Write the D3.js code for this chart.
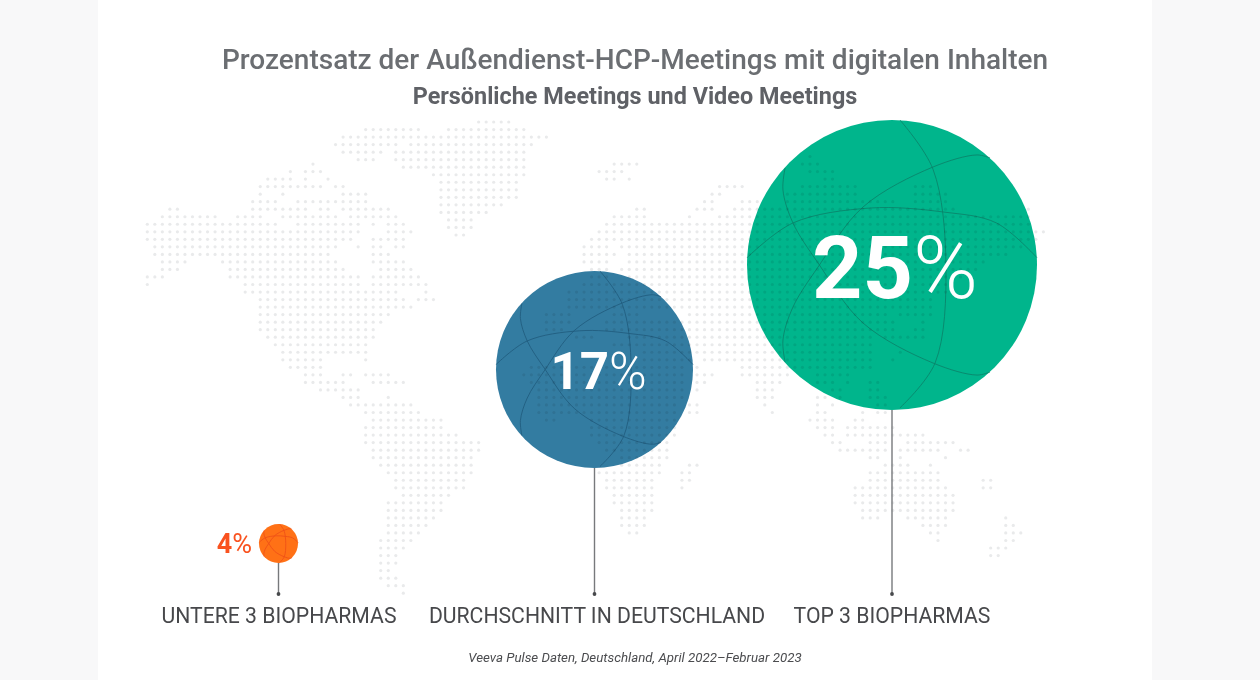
<!DOCTYPE html>
<html>
<head>
<meta charset="utf-8">
<script src="https://cdn.jsdelivr.net/npm/d3@7"></script>
<style>
    html, body { margin: 0; padding: 0; background: #f8f8f9; }
    svg { display: block; font-family: Roboto, sans-serif; }
</style>
</head>
<body>
<svg id="chart" width="1260" height="680"></svg>
<script>
const title = 'Prozentsatz der Außendienst-HCP-Meetings mit digitalen Inhalten';
const subtitle = 'Persönliche Meetings und Video Meetings';
const footnote = 'Veeva Pulse Daten, Deutschland, April 2022–Februar 2023';

const categories = ['UNTERE 3 BIOPHARMAS', 'DURCHSCHNITT IN DEUTSCHLAND', 'TOP 3 BIOPHARMAS'];
const values = [4, 17, 25];

// dot map background, column ranges per grid row
const greenlandRows = [
    '44-48', '29-36 40-50', '26-53', '25-33 35-51', '26-31 33-50', '28-30 33-50', '34-50', '38-50',
    '39-49', '39-49', '39-49', '39-47', '39-45', '40-43', '40-43', '41-42'
];
const worldRows = [
    '88',
    '22 62-65 87-89',
    '19 21-23 60-63 88-91',
    '16-19 21 24 61 62 64 90 91',
    '15-23 25 26 76-79 87-94 102-104',
    '15 18 26-29 75 76 85-94 102-106',
    '14-17 20-29 74 75 79-81 85-99 102-106',
    '3 4 14-21 23 24 26-32 65 66 73-75 78-107 117',
    '2-9 12-15 18-25 27-33 62-66 72 76-117',
    '0-17 20-28 30 32-34 61-117',
    '0-28 32-35 60-119',
    '0-27 30-34 59-118',
    '1-25 28 30 31 33 34 58-61 63-116',
    '1-24 30-32 58-62 64-114',
    '2-5 10-25 30-34 58-61 64-111',
    '2-4 11-26 31-35 59-61 63-110',
    '0-2 11-28 30-36 59-61 64-108',
    '0 13-28 30-37 58-106',
    '13-33 37 56-106',
    '15-34 36-38 56-104',
    '15-35 56-104',
    '15-32 53-56 62-65 72-98 100-104',
    '15-31 53-56 61-99 103',
    '15-30 53-55 61-99 102 103',
    '16-30 57-59 64-96 98-103',
    '17-29 62-96',
    '18-29 66-96 100',
    '18-23 29 66-72 74-96 99',
    '19-23 51-71 73 79-96',
    '21-23 26 27 29-32 50-71 73-75 79-85 89-93',
    '21-26 30-34 51-71 73 74 81-84 89-91 93 96 97',
    '23-28 52-71 73 81-83 91 92 96 97',
    '26-28 32 52-71 81-83 89 90 92 96-98',
    '27-35 52-70 72 73 82 89 91 97 98',
    '29-36 52-70 72 73 83 89 90 95 97 98',
    '30-39 53 54 59-70 88-91 94 95',
    '29-39 59-70 89-91 93-99',
    '29-41 59-70 90 91 93-103',
    '29-44 60-69 91 92 96-98 101-107',
    '30-44 61-69 92-98 100-105 108 109',
    '30-43 63-69 96 97 100 106',
    '31-43 63-68 72 73 98-101 104',
    '32-43 60-68 71 72 96-105',
    '33-42 61-67 71 72 96-105 111 112',
    '33-42 61-67 71 94-106 111 112',
    '34-40 62-67 94-107',
    '32-39 62-67 94-107',
    '32-39 63-67 95-107',
    '32-38 63-66 95-97 101-106 114',
    '32-37 63-66 103-106 114 115',
    '32-36 64 65 104 105 114-116',
    '31-35 105 114 115',
    '31-34 112-114',
    '31-33 112 113',
    '31-33',
    '31 32',
    '31-33',
    '32-34',
    '34'
];

// globe lines on a unit circle
const globeArcs = [
    [[-1, -0.05], [-0.683, -0.29], [-0.15, -0.393], [0.35, -0.366], [0.72, -0.29], [1, -0.05]],
    [[0.055, -1], [0.283, -0.66], [0.372, 0], [0.297, 0.676], [0.055, 0.985]],
    [[-0.737, -0.67], [-0.752, -0.517], [-0.683, -0.29], [-0.51, -0.014], [-0.2, 0.4], [0.283, 0.676], [0.586, 0.759], [0.676, 0.738]],
    [[-0.737, 0.67], [-0.752, 0.517], [-0.683, 0.29], [-0.51, 0.014], [-0.2, -0.4], [0.283, -0.676], [0.586, -0.759], [0.676, -0.738]]
];

function expandRows(rows, firstRow) {
    const dots = [];
    rows.forEach(function(row, i) {
        row.split(' ').forEach(function(part) {
            const ends = part.split('-').map(Number);
            const last = ends.length > 1 ? ends[1] : ends[0];
            for (let c = ends[0]; c <= last; c++) {
                dots.push({ col: c, row: firstRow + i });
            }
        });
    });
    return dots;
}

const svg = d3.select('#chart');

svg.append('rect')
    .attr('x', 98)
    .attr('y', 0)
    .attr('width', 1054)
    .attr('height', 680)
    .attr('fill', '#ffffff');

// Create scales
const xScale = d3.scaleOrdinal().domain(categories).range([278.5, 594.5, 892]);
const rScale = d3.scaleLinear().domain(values).range([19.5, 98.5, 145]);
const bottomScale = d3.scaleLinear().domain(values).range([563, 468, 410]);
const colorScale = d3.scaleOrdinal().domain(categories).range(['#ff7116', '#337ca1', '#00b58c']);
const arcColor = d3.scaleOrdinal().domain(categories).range(['#ee4e16', '#1f5a7c', '#0b7f68']);
const colScale = d3.scaleLinear().domain([0, 119]).range([147.3, 1043.4]);
const rowScale = d3.scaleLinear().domain([0, 58]).range([156.5, 593.2]);
const greenlandRowScale = d3.scaleLinear().domain([0, 15]).range([122, 235]);

const arcLine = d3.line().curve(d3.curveCatmullRom.alpha(0.5));

const chart = svg.append('g');

// bubbles
const bubbles = chart.selectAll('.bubble')
    .data(categories)
    .enter()
    .append('g')
    .attr('class', 'bubble')
    .attr('transform', function(d, i) {
        return `translate(${xScale(d)},${bottomScale(values[i]) - rScale(values[i])})`;
    });

bubbles.append('circle')
    .attr('r', function(d, i) { return rScale(values[i]); })
    .attr('fill', function(d) { return colorScale(d); });

bubbles.selectAll('path')
    .data(function(d, i) {
        return globeArcs.map(function(arc) {
            return { cat: d, points: arc.map(p => [p[0] * rScale(values[i]), p[1] * rScale(values[i])]) };
        });
    })
    .enter()
    .append('path')
    .attr('d', d => arcLine(d.points))
    .attr('fill', 'none')
    .attr('stroke', d => arcColor(d.cat))
    .attr('stroke-width', 1)
    .attr('stroke-opacity', 0.8);

// map dots go over the bubbles and darken them
const dots = chart.append('g').style('mix-blend-mode', 'multiply');

dots.selectAll('.greenland')
    .data(expandRows(greenlandRows, 0))
    .enter()
    .append('circle')
    .attr('class', 'greenland')
    .attr('cx', d => colScale(d.col))
    .attr('cy', d => greenlandRowScale(d.row))
    .attr('r', 1.6)
    .attr('fill', '#e9eaeb');

dots.selectAll('.world')
    .data(expandRows(worldRows, 0))
    .enter()
    .append('circle')
    .attr('class', 'world')
    .attr('cx', d => colScale(d.col))
    .attr('cy', d => rowScale(d.row))
    .attr('r', 1.6)
    .attr('fill', '#e9eaeb');

// stems
const stems = chart.selectAll('.stem')
    .data(categories)
    .enter()
    .append('g')
    .attr('class', 'stem');

stems.append('line')
    .attr('x1', d => xScale(d))
    .attr('x2', d => xScale(d))
    .attr('y1', (d, i) => bottomScale(values[i]))
    .attr('y2', 594)
    .attr('stroke', '#77797c')
    .attr('stroke-width', 1.4);

stems.append('circle')
    .attr('cx', d => xScale(d))
    .attr('cy', 594)
    .attr('r', 1.9)
    .attr('fill', '#47494c');

// value labels
const valueLabels = chart.selectAll('.value')
    .data(categories)
    .enter()
    .append('text')
    .attr('class', 'value')
    .attr('x', function(d, i) { return [252, 598.5, 895][i]; })
    .attr('y', function(d, i) { return [553, 389, 298][i]; })
    .style('text-anchor', function(d, i) { return i === 0 ? 'end' : 'middle'; })
    .style('font-size', function(d, i) { return [27, 51, 88][i] + 'px'; })
    .style('fill', function(d, i) { return i === 0 ? '#f9521f' : '#ffffff'; });

valueLabels.append('tspan')
    .style('font-weight', 700)
    .text((d, i) => values[i]);

valueLabels.append('tspan')
    .style('font-weight', (d, i) => i === 0 ? 400 : 300)
    .text('%');

// category labels
chart.selectAll('.category')
    .data(categories)
    .enter()
    .append('text')
    .attr('class', 'category')
    .attr('x', function(d, i) { return [279, 597, 892][i]; })
    .attr('y', 623)
    .style('text-anchor', 'middle')
    .style('font-size', '21.2px')
    .style('fill', '#47484b')
    .text(d => d);

// Add title
svg.append('text')
    .attr('x', 635)
    .attr('y', 69)
    .style('text-anchor', 'middle')
    .style('font-size', '28px')
    .style('font-weight', 500)
    .style('fill', '#6b6e72')
    .text(title);

svg.append('text')
    .attr('x', 635)
    .attr('y', 104)
    .style('text-anchor', 'middle')
    .style('font-size', '23.4px')
    .style('font-weight', 700)
    .style('fill', '#5f6166')
    .text(subtitle);

svg.append('text')
    .attr('x', 635)
    .attr('y', 662)
    .style('text-anchor', 'middle')
    .style('font-size', '13.3px')
    .style('font-style', 'italic')
    .style('fill', '#4b4c4f')
    .text(footnote);
</script>
</body>
</html>
